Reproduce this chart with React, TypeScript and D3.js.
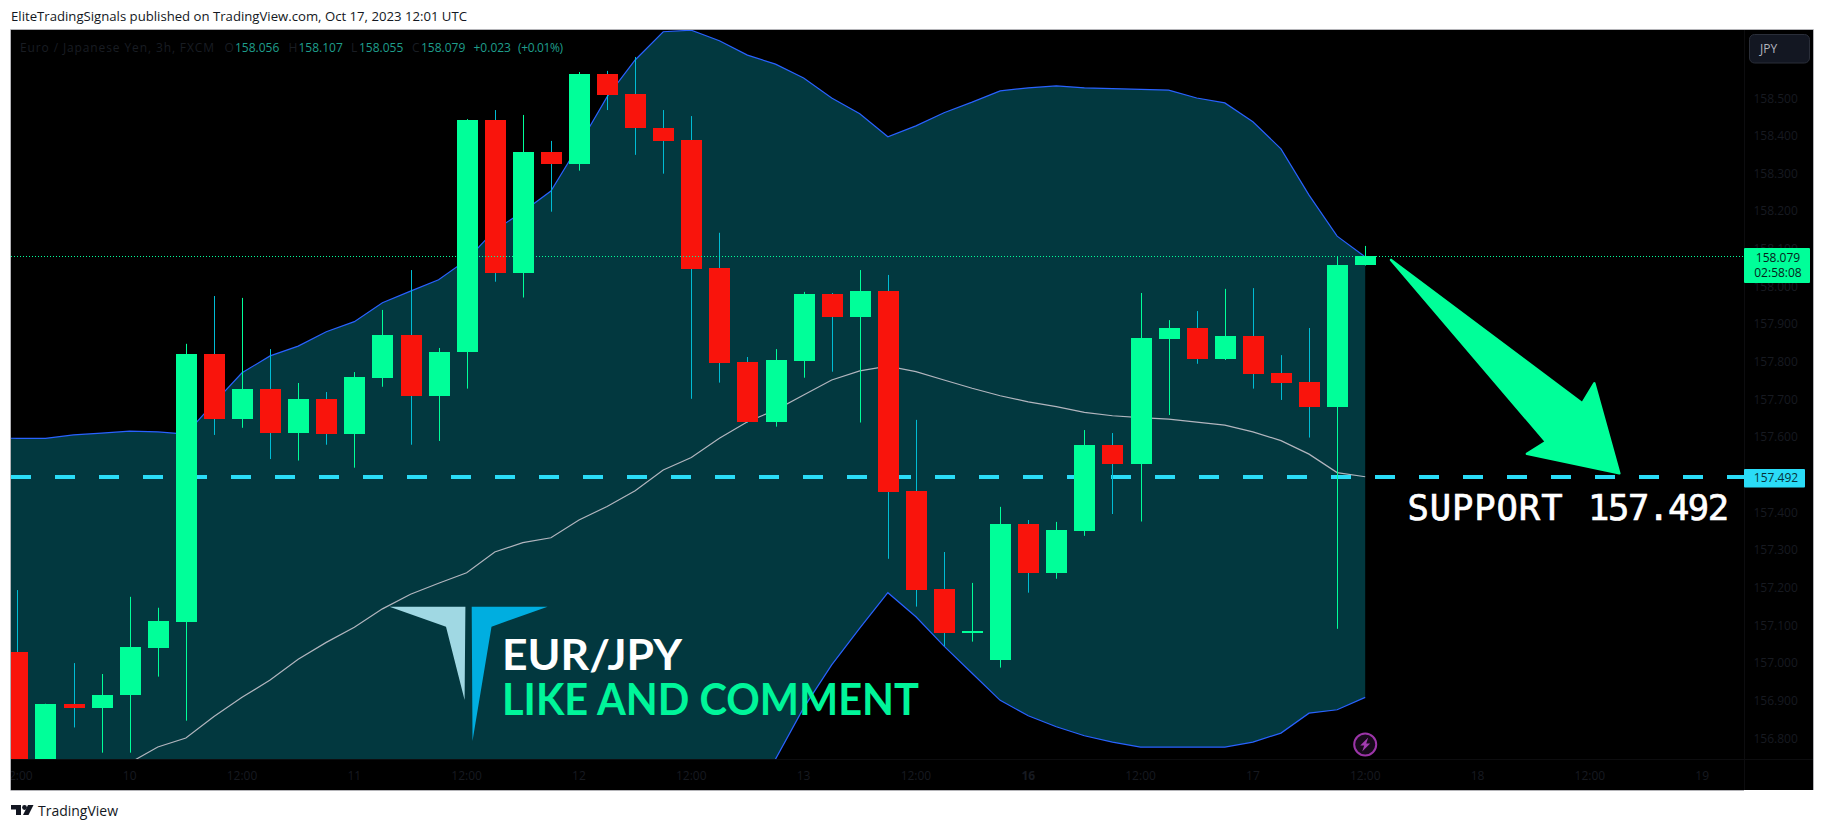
import React from 'react';
import * as d3 from 'd3';

const WIDTH = 1824;
const HEIGHT = 830;

// price pane bounds
const plotLeft = 11;
const plotRight = 1744;
const plotTop = 30;
const plotBottom = 759;
const frameRight = 1813;
const frameBottom = 790;

// 3h candles, first one is cut by the left edge
const opens = [157.029, 156.700, 156.891, 156.881, 156.913, 157.040, 157.109, 157.820, 157.647, 157.727, 157.611, 157.701, 157.608, 157.757, 157.871, 157.709, 157.824, 158.442, 158.036, 158.357, 158.326, 158.564, 158.511, 158.420, 158.389, 158.049, 157.799, 157.640, 157.802, 157.979, 157.919, 157.987, 157.456, 157.196, 157.080, 157.008, 157.369, 157.237, 157.351, 157.578, 157.529, 157.860, 157.889, 157.807, 157.868, 157.770, 157.746, 157.679, 158.056];
const highs = [157.193, 156.891, 156.999, 156.970, 157.175, 157.146, 157.847, 157.974, 157.969, 157.833, 157.743, 157.719, 157.772, 157.937, 158.043, 157.836, 158.444, 158.468, 158.455, 158.386, 158.569, 158.572, 158.609, 158.468, 158.452, 158.142, 157.812, 157.833, 157.985, 157.982, 158.043, 158.030, 157.645, 157.294, 157.212, 157.414, 157.379, 157.374, 157.618, 157.610, 157.982, 157.910, 157.934, 157.993, 157.995, 157.817, 157.889, 158.078, 158.107];
const lows = [156.636, 156.680, 156.828, 156.761, 156.761, 156.963, 156.846, 157.605, 157.624, 157.541, 157.537, 157.579, 157.518, 157.733, 157.579, 157.589, 157.728, 158.012, 157.970, 158.198, 158.307, 158.468, 158.349, 158.299, 157.701, 157.744, 157.637, 157.627, 157.757, 157.773, 157.638, 157.276, 157.149, 157.044, 157.056, 156.987, 157.186, 157.223, 157.337, 157.395, 157.375, 157.658, 157.794, 157.804, 157.728, 157.698, 157.598, 157.090, 158.055];
const closes = [156.700, 156.891, 156.881, 156.914, 157.042, 157.111, 157.820, 157.647, 157.727, 157.611, 157.701, 157.608, 157.759, 157.871, 157.709, 157.825, 158.442, 158.036, 158.357, 158.326, 158.564, 158.508, 158.419, 158.386, 158.047, 157.797, 157.640, 157.804, 157.979, 157.919, 157.987, 157.454, 157.194, 157.080, 157.084, 157.369, 157.237, 157.353, 157.578, 157.529, 157.863, 157.889, 157.807, 157.868, 157.768, 157.743, 157.679, 158.056, 158.079];

// bollinger bands, these start one bar before the first candle
const bandUpper = [157.597, 157.596, 157.596, 157.605, 157.610, 157.615, 157.613, 157.607, 157.690, 157.770, 157.815, 157.841, 157.879, 157.906, 157.956, 157.987, 158.017, 158.070, 158.149, 158.198, 158.253, 158.375, 158.503, 158.601, 158.676, 158.680, 158.652, 158.614, 158.590, 158.553, 158.500, 158.458, 158.397, 158.426, 158.461, 158.489, 158.519, 158.527, 158.532, 158.527, 158.525, 158.523, 158.521, 158.500, 158.487, 158.437, 158.365, 158.242, 158.133, 158.078];
const bandBasis = [156.516, 156.556, 156.596, 156.635, 156.683, 156.734, 156.776, 156.800, 156.857, 156.908, 156.954, 157.009, 157.054, 157.094, 157.143, 157.182, 157.211, 157.239, 157.294, 157.319, 157.332, 157.379, 157.415, 157.457, 157.512, 157.545, 157.596, 157.640, 157.671, 157.711, 157.751, 157.775, 157.788, 157.773, 157.751, 157.729, 157.709, 157.693, 157.680, 157.665, 157.656, 157.651, 157.647, 157.639, 157.631, 157.613, 157.590, 157.554, 157.505, 157.494];
const bandLower = [155.44, 155.52, 155.60, 155.67, 155.76, 155.85, 155.94, 155.99, 156.02, 156.05, 156.09, 156.18, 156.23, 156.28, 156.33, 156.38, 156.41, 156.41, 156.44, 156.44, 156.41, 156.38, 156.33, 156.31, 156.35, 156.41, 156.54, 156.596, 156.744, 156.880, 156.994, 157.092, 157.186, 157.122, 157.044, 156.972, 156.900, 156.859, 156.830, 156.806, 156.789, 156.776, 156.776, 156.776, 156.776, 156.789, 156.813, 156.866, 156.875, 156.908];

const priceTicks = [156.8, 156.9, 157.0, 157.1, 157.2, 157.3, 157.4, 157.6, 157.7, 157.8, 157.9, 158.0, 158.1, 158.2, 158.3, 158.4, 158.5];
const timeLabels = ['12:00', '10', '12:00', '11', '12:00', '12', '12:00', '13', '12:00', '16', '12:00', '17', '12:00', '18', '12:00', '19'];
const lastPrice = 158.079;
const supportPrice = 157.492;

// arrow drawn on the chart: [bar index, price]
const arrowPoints: [number, number][] = [
  [48.92, 158.070],
  [55.73, 157.689],
  [56.16, 157.742],
  [57.05, 157.503],
  [53.76, 157.555],
  [54.44, 157.587],
];

const legendParts = [
  { text: 'Euro / Japanese Yen, 3h, FXCM', x: 20, fill: '#191d23', len: 194 },
  { text: 'O', x: 224.5, fill: '#191d23' },
  { text: '158.056', x: 235, fill: '#1f9e8c' },
  { text: 'H', x: 288.5, fill: '#191d23' },
  { text: '158.107', x: 298.5, fill: '#1f9e8c' },
  { text: 'L', x: 351, fill: '#191d23' },
  { text: '158.055', x: 359, fill: '#1f9e8c' },
  { text: 'C', x: 412, fill: '#191d23' },
  { text: '158.079', x: 421, fill: '#1f9e8c' },
  { text: '+0.023', x: 473.5, fill: '#1f9e8c' },
  { text: '(+0.01%)', x: 518, fill: '#1f9e8c', len: 45 },
];

const GREEN = '#00ff99';
const RED = '#f9140c';
const WICK_DOWN = '#00bcd4';
const FILL = '#02383f';
const BLUE = '#2962ff';
const AXIS_TEXT = '#171a20';
const FONT = '"Open Sans", "Noto Sans", sans-serif';

const x = d3.scaleLinear().domain([0, 48]).range([17.4, 1365.2]);
const y = d3.scaleLinear().domain([156.8, 158.5]).range([738, 98]);
const bandX = (i: number) => x(i - 1);

const bodyWidth = 21;

const upperLine = d3.line<number>().x((_, i) => bandX(i)).y(d => y(d))(bandUpper)!;
const lowerLine = d3.line<number>().x((_, i) => bandX(i)).y(d => y(d))(bandLower)!;
const basisLine = d3.line<number>().x((_, i) => bandX(i)).y(d => y(d))(bandBasis)!;
const bandArea = d3.area<number>()
  .x((_, i) => bandX(i))
  .y0((_, i) => y(bandLower[i]))
  .y1(d => y(d))(bandUpper)!;
const arrowPath = d3.line<[number, number]>().x(d => x(d[0])).y(d => y(d[1])).curve(d3.curveLinearClosed)(arrowPoints)!;

const App: React.FC = () => {
  const lastY = Math.round(y(lastPrice)) + 0.5;
  const supportY = Math.round(y(supportPrice));
  return (
    <svg width={WIDTH} height={HEIGHT} viewBox={`0 0 ${WIDTH} ${HEIGHT}`}
      style={{ position: 'absolute', left: 0, top: 0, display: 'block', background: '#fff' }}>
      <defs>
        <clipPath id="pane">
          <rect x={plotLeft} y={plotTop} width={plotRight - plotLeft} height={plotBottom - plotTop} />
        </clipPath>
        <clipPath id="timeClip">
          <rect x={plotLeft} y={plotBottom} width={plotRight - plotLeft} height={frameBottom - plotBottom} />
        </clipPath>
      </defs>

      <text x={11} y={21} fontFamily={FONT} fontSize={12} fill="#131722" textLength={456} lengthAdjust="spacingAndGlyphs">
        EliteTradingSignals published on TradingView.com, Oct 17, 2023 12:01 UTC
      </text>

      {/* frame */}
      <rect x={plotLeft} y={plotTop} width={frameRight - plotLeft} height={frameBottom - plotTop} fill="#000" />
      <path d={`M${plotLeft - 0.5} ${frameBottom}V${plotTop - 0.5}H${frameRight + 0.5}V${frameBottom}`} fill="none" stroke="#b4b4b8" strokeWidth={1} />
      <path d={`M${plotLeft - 0.5} ${frameBottom + 0.5}H${plotRight}`} fill="none" stroke="#b4b4b8" strokeWidth={1} />
      <path d={`M${plotRight + 0.5} ${plotTop}V${frameBottom}M${plotLeft} ${plotBottom + 0.5}H${frameRight}`} fill="none" stroke="#0d0d0f" strokeWidth={1} />

      <g clipPath="url(#pane)">
        <path d={bandArea} fill={FILL} />
        <path d={upperLine} fill="none" stroke={BLUE} strokeWidth={1.2} />
        <path d={lowerLine} fill="none" stroke={BLUE} strokeWidth={1.2} />
        <path d={basisLine} fill="none" stroke="#b2b5be" strokeWidth={1.2} />

        <line x1={plotLeft} x2={plotRight} y1={supportY} y2={supportY}
          stroke="#2adcf7" strokeWidth={4} strokeDasharray="20 24" />

        {closes.map((c, i) => {
          const up = c >= opens[i];
          const cx = Math.round(x(i)) + 0.5;
          const top = Math.round(y(Math.max(opens[i], c)));
          const bottom = Math.round(y(Math.min(opens[i], c)));
          return (
            <g key={i}>
              <line x1={cx} x2={cx} y1={y(highs[i])} y2={y(lows[i])}
                stroke={up ? GREEN : WICK_DOWN} strokeWidth={1} />
              <rect x={cx - bodyWidth / 2} y={top} width={bodyWidth} height={Math.max(bottom - top, 2)}
                fill={up ? GREEN : RED} />
            </g>
          );
        })}

        <line x1={plotLeft} x2={plotRight} y1={lastY} y2={lastY} stroke={GREEN} strokeWidth={1} strokeDasharray="1 2" shapeRendering="crispEdges" />

        <path d={arrowPath} fill={GREEN} stroke={GREEN} strokeWidth={2.5} strokeLinejoin="round" />

        {/* logo */}
        <path d="M389.5 606.7H465.4L464.6 700L446 626.7Z" fill="#a0d8e3" />
        <path d="M471.7 606.7H547.6L491.5 626.7L472.5 741Z" fill="#00aee0" />

        <text x={502} y={669.5} fontFamily='Lato, "Open Sans", sans-serif' fontWeight={700} fontSize={42} fill="#fff" textLength={180} lengthAdjust="spacingAndGlyphs">EUR/JPY</text>
        <text x={502} y={715} fontFamily='Lato, "Open Sans", sans-serif' fontWeight={700} fontSize={44} fill="#00f59a" textLength={417} lengthAdjust="spacingAndGlyphs">LIKE AND COMMENT</text>

        <text y={520} fontFamily='"DejaVu Sans Mono", monospace' fontSize={35.5} fill="#fff" stroke="#fff" strokeWidth={0.7}>
          <tspan x={1407.5} letterSpacing={0.9}>SUPPORT</tspan>{' '}
          <tspan x={1588} letterSpacing={-1.4}>157.492</tspan>
        </text>

        {legendParts.map(p => (
          <text key={p.x} x={p.x} y={52} fontFamily={FONT} fontSize={12} fill={p.fill}
            textLength={p.len} lengthAdjust={p.len ? 'spacing' : undefined}>{p.text}</text>
        ))}

        {/* bolt marker on the last bar */}
        <g transform={`translate(${x(48)},744.5)`}>
          <circle r={11} fill="#160a1a" stroke="#9c35a8" strokeWidth={2} />
          <path d="M3-7L-5 1H-1L-3 7L5-1H1Z" fill="#a23cb0" />
        </g>
      </g>

      {/* price axis */}
      {priceTicks.map(t => (
        <text key={t} x={1753.5} y={y(t) + 4.5} fontFamily={FONT} fontSize={12} fill={AXIS_TEXT}>{t.toFixed(3)}</text>
      ))}

      <rect x={1749.5} y={34.5} width={60} height={28.5} rx={5} fill="#131722" stroke="#2a2e39" />
      <text x={1760} y={53} fontFamily={FONT} fontSize={12} fill="#b2b5be">JPY</text>

      <rect x={plotRight} y={y(lastPrice) - 8.5} width={66} height={35} rx={1} fill={GREEN} />
      <text x={1778} y={y(lastPrice) + 5.5} textAnchor="middle" fontFamily={FONT} fontSize={12} fill="#06231b">{lastPrice.toFixed(3)}</text>
      <text x={1778} y={y(lastPrice) + 20.5} textAnchor="middle" fontFamily={FONT} fontSize={12} fill="#06231b">02:58:08</text>

      <rect x={plotRight} y={y(supportPrice) - 8.5} width={61} height={18.5} rx={1} fill="#2adcf7" />
      <text x={1776} y={y(supportPrice) + 5} textAnchor="middle" fontFamily={FONT} fontSize={12} fill="#06323a">{supportPrice.toFixed(3)}</text>

      {/* time axis */}
      <g clipPath="url(#timeClip)">
        {timeLabels.map((t, i) => (
          <text key={i} x={x(i * 4)} y={780} textAnchor="middle" fontFamily={FONT} fontSize={12}
            fontWeight={t === '16' ? 700 : 400} fill={AXIS_TEXT}>{t}</text>
        ))}
      </g>

      {/* footer */}
      <g fill="#131722">
        <path d="M11 805H21V815H16V809.5H11Z" />
        <circle cx={24.5} cy={807.5} r={2.4} />
        <path d="M33.5 805L28.5 815H23L28 805Z" />
        <text x={38} y={816} fontFamily={FONT} fontSize={14} textLength={80} lengthAdjust="spacingAndGlyphs">TradingView</text>
      </g>
    </svg>
  );
};

export default App;
